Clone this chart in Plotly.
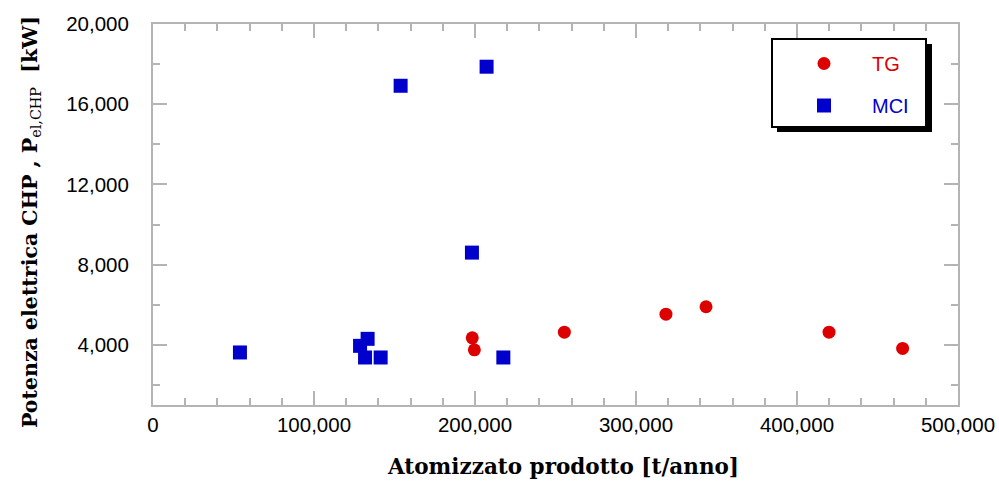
import plotly.graph_objects as go

tg_x = [198300, 199600, 255500, 318600, 343500, 419900, 465600]
tg_y = [4350, 3750, 4630, 5530, 5900, 4630, 3820]

mci_x = [54000, 128600, 133300, 131700, 141400, 217600, 153800, 207200, 198100]
mci_y = [3620, 3950, 4300, 3370, 3370, 3370, 16920, 17870, 8600]

RED = "#dd0000"
BLUE = "#0000cc"
AXC = "#b4b4b4"

L, R, T, B = 153, 958, 24, 405
PW, PH = R - L, B - T


def px(xp):
    return (xp - L) / PW


def py(yp):
    return (B - yp) / PH


fig = go.Figure()
fig.add_trace(go.Scatter(x=tg_x, y=tg_y, mode="markers",
                         name=f"<span style='color:{RED}'>TG</span>", legendgroup="tg",
                         marker=dict(symbol="circle", size=13, color=RED)))
fig.add_trace(go.Scatter(x=mci_x, y=mci_y, mode="markers",
                         name=f"<span style='color:{BLUE}'>MCI</span>", legendgroup="mci",
                         marker=dict(symbol="square", size=14, color=BLUE)))

tickfont = dict(family="Liberation Sans, Arial", size=20.5, color="black")

fig.update_layout(
    width=999, height=483,
    margin=dict(l=L, r=999 - R, t=T, b=483 - B),
    paper_bgcolor="white", plot_bgcolor="white",
    showlegend=True,
    legend=dict(x=px(776), y=py(44), xanchor="left", yanchor="top",
                bgcolor="rgba(0,0,0,0)", borderwidth=0,
                font=dict(family="Liberation Sans, Arial", size=20),
                itemwidth=86, tracegroupgap=13),
    xaxis=dict(range=[0, 500000], dtick=100000, tick0=0, tickformat=",",
               automargin=False,
               showgrid=False, zeroline=False, showline=True, linecolor=AXC,
               linewidth=2, mirror="ticks", ticks="inside", ticklen=14,
               tickcolor=AXC, tickwidth=1.5, tickfont=tickfont,
               minor=dict(dtick=20000, ticks="inside", ticklen=7, tickcolor=AXC, tickwidth=1.5)),
    yaxis=dict(range=[1000, 20000], dtick=4000, tick0=0, tickformat=",",
               automargin=False,
               showgrid=False, zeroline=False, showline=True, linecolor=AXC,
               linewidth=2, mirror="ticks", ticks="inside", ticklen=14,
               tickcolor=AXC, tickwidth=1.5, tickfont=tickfont,
               ticklabelstandoff=18,
               minor=dict(dtick=2000, ticks="inside", ticklen=7, tickcolor=AXC, tickwidth=1.5)),
)

# axis titles
fig.add_annotation(text="Atomizzato prodotto [t/anno]", xref="paper", yref="paper",
                   x=px(563), y=py(466), xanchor="center", yanchor="middle", showarrow=False,
                   font=dict(family="DejaVu Serif", size=21.5, color="black", weight="bold"))
fig.add_annotation(text="Potenza elettrica CHP , P<sub><span style='font-weight:normal'>el,CHP</span></sub>  [kW]",
                   xref="paper", yref="paper", textangle=-90,
                   x=px(31), y=py(222), xanchor="center", yanchor="middle", showarrow=False,
                   font=dict(family="DejaVu Serif", size=20.5, color="black", weight="bold"))

# legend shadow and box
fig.add_shape(type="rect", xref="paper", yref="paper",
              x0=px(777), x1=px(932), y0=py(132), y1=py(44),
              fillcolor="black", line=dict(width=0), layer="above")
fig.add_shape(type="rect", xref="paper", yref="paper",
              x0=px(772), x1=px(926), y0=py(127), y1=py(39),
              fillcolor="white", line=dict(width=2, color="black"), layer="above")

fig.write_html("out.html")
